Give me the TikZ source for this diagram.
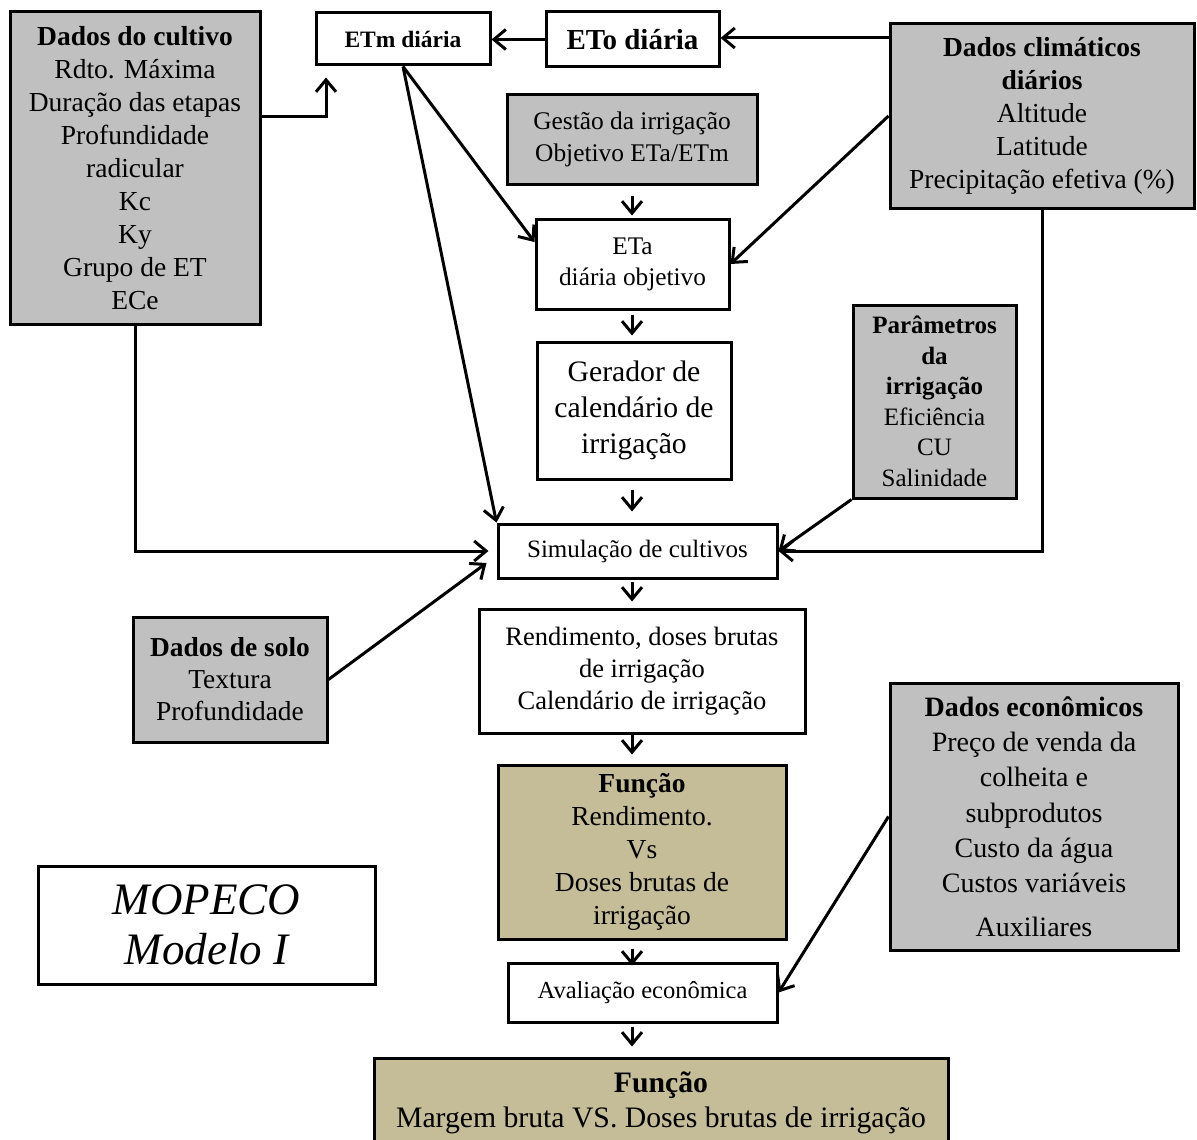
\documentclass[tikz,border=0pt]{standalone}
\usepackage{fontspec}
\setmainfont{Liberation Serif}
\usetikzlibrary{arrows.meta,calc}
\definecolor{grayfill}{RGB}{192,192,192}
\definecolor{khaki}{RGB}{196,189,151}
\newcommand{\fsz}[2]{\fontsize{#1}{#2}\selectfont}
\tikzset{
  bx/.style={draw, line width=3pt, inner sep=0pt, align=center, fill=white},
  gbx/.style={bx, fill=grayfill},
  kbx/.style={bx, fill=khaki},
  arr/.style={line width=3pt, -{Straight Barb[length=12pt,width=20pt,line width=3pt]}}
}
\begin{document}
\begin{tikzpicture}[x=1pt,y=-1pt]
\clip (0,0) rectangle (1197,1140);
\fill[white] (0,0) rectangle (1197,1140);

% nodes
\node[gbx, minimum width=250pt, minimum height=312pt, font=\fsz{27.5}{33}] (cult) at (135,168)
  {\textbf{Dados do cultivo}\\Rdto. Máxima\\Duração das etapas\\Profundidade\\radicular\\Kc\\Ky\\Grupo de ET\\ECe};
\node[bx, minimum width=174pt, minimum height=52pt, font=\fsz{23.5}{28}\bfseries] (etm) at (403,39) {ETm diária};
\node[bx, minimum width=173pt, minimum height=55pt, font=\fsz{29}{34}\bfseries] (eto) at (632.5,39.5) {ETo diária};
\node[gbx, minimum width=304pt, minimum height=184pt, font=\fsz{27.5}{33}] (clim) at (1042,116)
  {\textbf{Dados climáticos}\\\textbf{diários}\\Altitude\\Latitude\\Precipitação efetiva (\%)};
\node[gbx, minimum width=250pt, minimum height=90pt, font=\fsz{25.4}{32}] (gest) at (632,139)
  {Gestão da irrigação\\Objetivo ETa/ETm};
\node[bx, minimum width=193pt, minimum height=90pt, font=\fsz{25.3}{31}] (eta) at (632.5,264)
  {ETa\\diária objetivo};
\node[bx, minimum width=194pt, minimum height=137pt, font=\fsz{29.7}{36}] (ger) at (634,410.5)
  {Gerador de\\calendário de\\irrigação};
\node[gbx, minimum width=163pt, minimum height=193pt, font=\fsz{25}{30.5}] (par) at (934.5,401.5)
  {\textbf{Parâmetros}\\\textbf{da}\\\textbf{irrigação}\\Eficiência\\CU\\Salinidade};
\node[bx, minimum width=279pt, minimum height=54pt, font=\fsz{25}{30}] (sim) at (637.5,551)
  {Simulação de cultivos};
\node[gbx, minimum width=194pt, minimum height=125pt, font=\fsz{27.4}{32}] (solo) at (230,679.5)
  {\textbf{Dados de solo}\\Textura\\Profundidade};
\node[bx, minimum width=326pt, minimum height=124pt, font=\fsz{26.5}{32}] (rend) at (642,671)
  {Rendimento, doses brutas\\de irrigação\\Calendário de irrigação};
\node[kbx, minimum width=288pt, minimum height=174pt, font=\fsz{27.5}{33}] (funa) at (642,852)
  {\textbf{Função}\\Rendimento.\\Vs\\Doses brutas de\\irrigação};
\node[gbx, minimum width=288pt, minimum height=267pt, font=\fsz{28}{35.3}] (econ) at (1034,816.5)
  {\textbf{Dados econômicos}\\Preço de venda da\\colheita e\\subprodutos\\Custo da água\\Custos variáveis\\[8pt]Auxiliares};
\node[bx, minimum width=337pt, minimum height=118pt, font=\fsz{45}{50}\itshape] (mop) at (206.5,925)
  {MOPECO\\Modelo I};
\node[bx, minimum width=269pt, minimum height=59pt, font=\fsz{24.5}{29}] (aval) at (642.5,992.5)
  {Avaliação econômica};
\node[kbx, minimum width=574pt, minimum height=89pt, font=\fsz{29.7}{35}] (funb) at (661,1102.5)
  {\textbf{Função}\\Margem bruta VS. Doses brutas de irrigação};

% helper coordinates
\coordinate (k1) at (326,116);
\coordinate (colx) at (632,0);

% connectors
\draw[arr, shorten >=11pt] (cult.east |- k1) -| (etm.south -| k1);
\draw[arr] (eto.west) -- (eto.west -| etm.east);
\draw[arr] (clim.west |- 0,38) -- (eto.east |- 0,38);
\draw[arr] (etm.south) -- ($(eta.west)+(0,-22)$);
\draw[arr] (etm.south) -- (sim.north west);
\draw[arr] (clim.west) -- (eta.east);
\draw[arr, shorten <=10pt, shorten >=2pt] (gest.south -| colx) -- (eta.north -| colx);
\draw[arr, shorten <=4pt, shorten >=5pt] (eta.south -| colx) -- (ger.north -| colx);
\draw[arr, shorten <=9pt, shorten >=11pt] (ger.south -| colx) -- (sim.north -| colx);
\draw[arr, shorten >=8pt] (cult.south) |- (sim.west);
\draw[arr] (solo.east) -- ($(sim.west)+(-10,12)$);
\draw[arr] (par.south west) -- (sim.east);
\draw[arr] (clim.south) |- (sim.east);
\draw[arr, shorten <=2pt, shorten >=6pt] (sim.south -| colx) -- (rend.north -| colx);
\draw[arr, shorten >=9pt] (rend.south -| colx) -- (funa.north -| colx);
\draw[arr, shorten <=8pt, shorten >=-4pt] (funa.south -| colx) -- (aval.north -| colx);
\draw[arr, shorten <=3pt, shorten >=10pt] (aval.south -| colx) -- (funb.north -| colx);
\draw[arr] (econ.west) -- (aval.east);
\end{tikzpicture}
\end{document}
